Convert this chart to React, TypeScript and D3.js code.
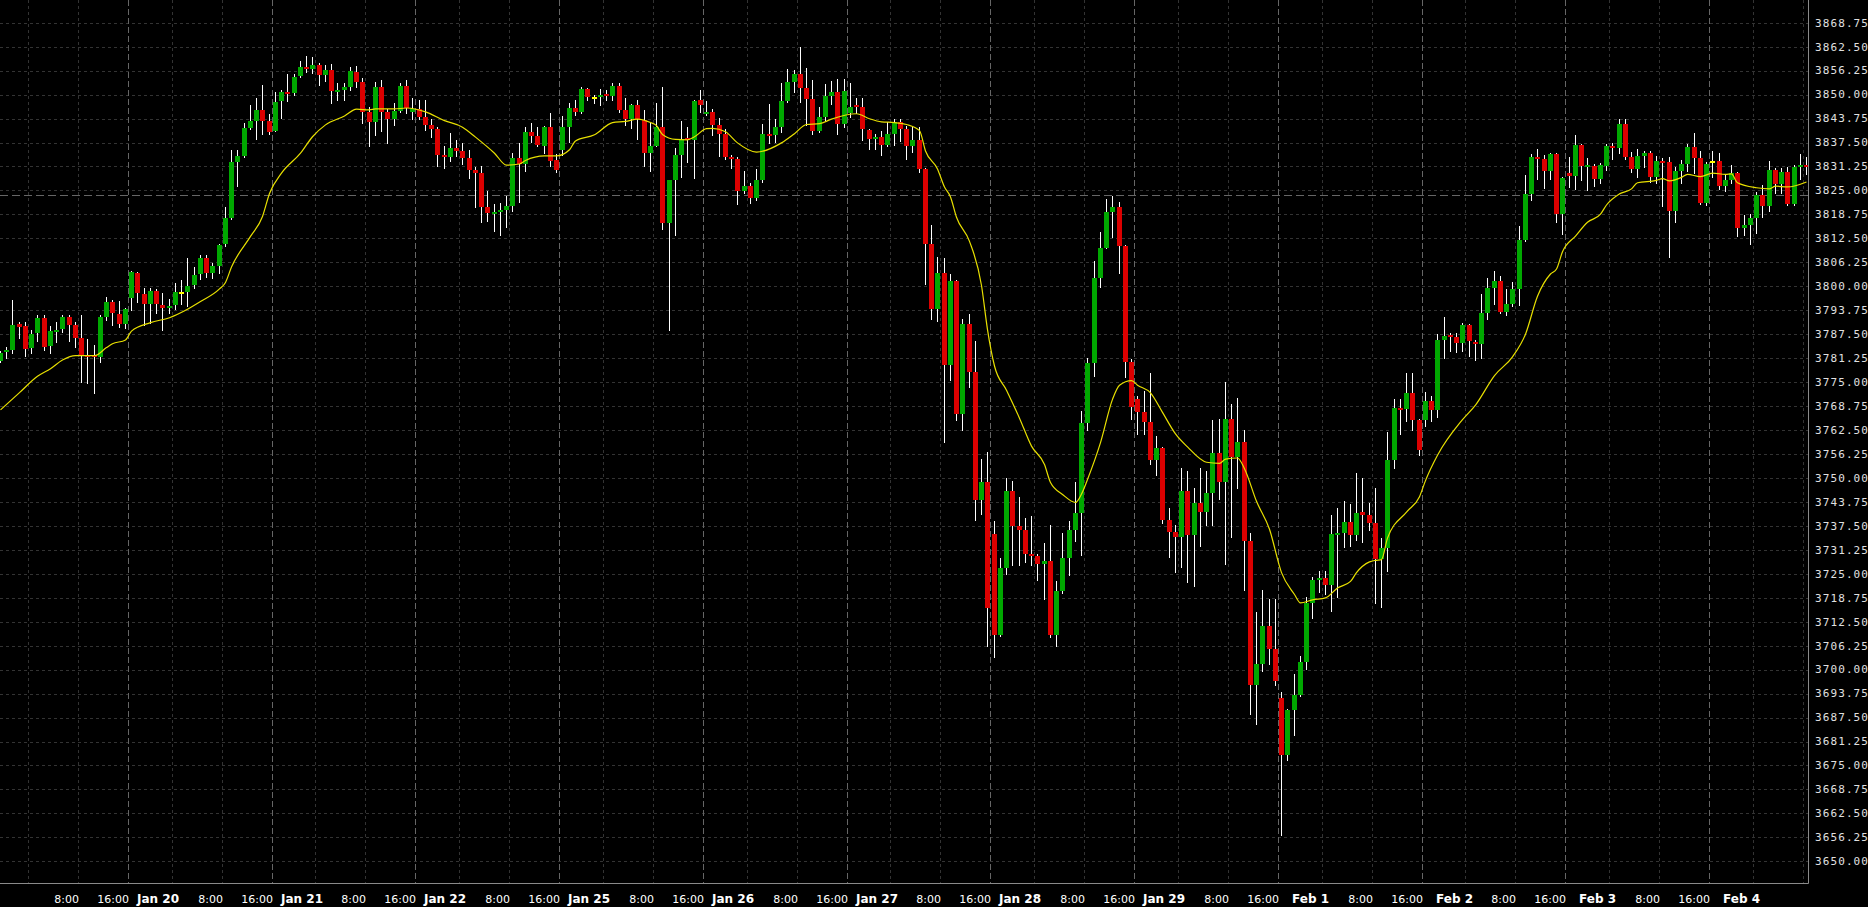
import React, { useEffect, useRef } from 'react';
import * as d3 from 'd3';

const WIDTH = 1868;
const HEIGHT = 907;
const PLOT_RIGHT = 1808;
const PLOT_BOTTOM = 883;

// trading sessions shown (hourly bars 01:00..23:00, first and last day partial)
const sessionDays = ['Jan 19', 'Jan 20', 'Jan 21', 'Jan 22', 'Jan 25', 'Jan 26', 'Jan 27', 'Jan 28', 'Jan 29', 'Feb 1', 'Feb 2', 'Feb 3', 'Feb 4'];
const firstBarHour = 3;
const lastBarHour = 16;

const opens = [
  3780.5, 3782.75, 3783.5, 3790.25, 3789.75, 3784, 3787.75, 3791.75, 3784.5, 3788, 3788.75, 3792, 3790, 3786.5, 3782, 3782, 3781.5, 3792, 3796, 3792.75,
  3790.25, 3797, 3803.5, 3798, 3795.5, 3798.75, 3795, 3794.25, 3795, 3798.5, 3798.5, 3800.25, 3803.25, 3807.5, 3803.5, 3805.25, 3811, 3817.75, 3832.5, 3834,
  3841.25, 3843, 3846, 3843, 3840.5, 3848.25, 3850.75, 3850.5, 3854.75, 3857.25, 3856.75, 3857.75, 3855, 3856.5, 3851, 3851.25, 3852, 3856, 3853.25, 3845.5,
  3842.75, 3852, 3845.5, 3843.75, 3845.75, 3852.25, 3845.5, 3846.25, 3844.25, 3842, 3841, 3834.25, 3833.75, 3836, 3835.25, 3833.5, 3830.25, 3829.5, 3820.75, 3818.75,
  3819.25, 3820, 3821, 3833.5, 3832, 3840.25, 3839.25, 3836.5, 3841.5, 3833, 3835.5, 3841.5, 3846.5, 3845.5, 3851.5, 3849.25, 3849.25, 3850.25, 3849.75, 3852.25,
  3846, 3843.5, 3847.25, 3843.25, 3834.75, 3836.5, 3841.5, 3816.5, 3827.75, 3834.25, 3838.75, 3838.25, 3848.5, 3845, 3845.5, 3842, 3839.75, 3833.75, 3833.25, 3824.75,
  3826.25, 3823, 3827.75, 3839.75, 3839.5, 3841.5, 3848.25, 3853.25, 3855.25, 3851.75, 3848.75, 3840.5, 3844.25, 3849.5, 3850.75, 3842.25, 3845.25, 3847.25, 3846.75, 3840.75,
  3838.5, 3839, 3836.75, 3839.75, 3842.75, 3841, 3836.5, 3838.25, 3830.5, 3811, 3794, 3803.5, 3779.5, 3801.5, 3766.75, 3790.25, 3777.75, 3744.25, 3749, 3735.25,
  3709, 3726.5, 3746.5, 3737.5, 3736.5, 3730.25, 3729.75, 3727.5, 3728.25, 3709, 3720.5, 3729, 3736.5, 3740.75, 3764.25, 3780, 3802.25, 3810, 3819.25, 3820.75,
  3810.5, 3780.25, 3770.5, 3767.25, 3764.5, 3754.75, 3757.75, 3739, 3736, 3734.5, 3746.5, 3735, 3743.5, 3741, 3746, 3756.5, 3749, 3765.25, 3755.5, 3759.25,
  3733.5, 3696, 3701.5, 3711.25, 3705.25, 3692.5, 3677.75, 3689.5, 3693.5, 3702, 3717.5, 3723.25, 3724, 3722, 3735.25, 3735.75, 3738.5, 3735, 3741, 3740.25,
  3738.25, 3728.75, 3731.75, 3754.75, 3768.25, 3768, 3772.25, 3765, 3765, 3770, 3767.75, 3786, 3787.25, 3786.75, 3785.25, 3790, 3785.5, 3785, 3793, 3799.5,
  3801.25, 3793.25, 3795.5, 3799.25, 3812, 3824, 3833.75, 3833.25, 3830, 3834.5, 3818.75, 3829.5, 3828.75, 3836.75, 3831.5, 3831.5, 3828, 3831.5, 3836.5, 3836,
  3842.25, 3833.75, 3830.5, 3834, 3834.75, 3828.5, 3832.75, 3832.5, 3819.75, 3830, 3832, 3836.25, 3833.5, 3821.75, 3832.75, 3832.75, 3826.25, 3827.75, 3829.5, 3815.25,
  3816, 3817.75, 3823.75, 3821, 3830.25, 3826.75, 3829.75, 3821.5, 3831, 3831.75,
];
const highs = [
  3783, 3784.25, 3796.5, 3790.75, 3790.75, 3788.5, 3792.5, 3792.5, 3789.75, 3790.75, 3792.5, 3792.5, 3790.75, 3792.5, 3786.25, 3784.75, 3792.5, 3797.25, 3796.5, 3796.25,
  3794.25, 3804, 3803.75, 3799.5, 3799.5, 3799.25, 3798.25, 3796.75, 3800.75, 3801.75, 3807.25, 3805, 3808.25, 3808.25, 3806, 3811, 3820.75, 3835.5, 3835.5, 3842.5,
  3847.25, 3849, 3852.5, 3845, 3850.75, 3851.25, 3855.25, 3855.25, 3858.75, 3860, 3859.75, 3858.25, 3857.75, 3858, 3853, 3853, 3857.25, 3857.5, 3854.25, 3846.75,
  3853.25, 3853.75, 3846.25, 3847.75, 3853, 3853.75, 3849, 3848.5, 3848.5, 3843.5, 3841.5, 3836.5, 3840, 3838.25, 3837.25, 3835.5, 3831, 3831.5, 3824.75, 3821.5,
  3821.75, 3823.5, 3834.75, 3837.25, 3841.5, 3842.5, 3841.5, 3841.75, 3845.25, 3834.5, 3844.5, 3847.75, 3848.5, 3852, 3851.75, 3850, 3851.5, 3851.25, 3853, 3853,
  3849, 3847.5, 3848.5, 3846, 3842.5, 3847.75, 3852, 3827.75, 3836, 3843, 3841.5, 3848.5, 3851.25, 3848.25, 3846.25, 3844, 3841, 3834.25, 3833.75, 3830,
  3827, 3830.5, 3842.25, 3847.5, 3843.5, 3853, 3856.75, 3856.5, 3862.5, 3857, 3853.75, 3846.75, 3852.75, 3853.5, 3854, 3854, 3853, 3849, 3849, 3841,
  3839.75, 3840.5, 3842.75, 3843.75, 3843.75, 3841.75, 3841.75, 3841.5, 3830.75, 3816, 3807.75, 3807.25, 3803.25, 3801.75, 3791.5, 3792.75, 3785.75, 3755, 3756.75, 3738.75,
  3729, 3750, 3749.25, 3745, 3739.5, 3740, 3730.25, 3733, 3737.75, 3723, 3735.75, 3738.75, 3749, 3767.5, 3781.25, 3806.5, 3814.25, 3822.75, 3823.5, 3822,
  3810.75, 3781, 3771.5, 3772.75, 3777.5, 3761, 3758, 3742.25, 3737.75, 3752.5, 3751.75, 3747.25, 3752.5, 3751.75, 3765, 3765.5, 3775, 3769.25, 3770.75, 3762.5,
  3735.75, 3715, 3720.75, 3718.5, 3718.5, 3694.25, 3689.75, 3698.75, 3703.5, 3719, 3724.25, 3725.75, 3725.75, 3740.25, 3742.25, 3744, 3743.25, 3751.25, 3750, 3743.5,
  3747.5, 3734.25, 3762, 3770.5, 3770.5, 3777.25, 3777.25, 3765.5, 3772.5, 3771.5, 3787.5, 3792, 3787.75, 3787.75, 3790.5, 3790.25, 3786, 3798, 3802.25, 3804,
  3802.75, 3799.25, 3801, 3815.75, 3829, 3834.5, 3835.75, 3834.25, 3834.75, 3834.75, 3828.5, 3833.75, 3839.5, 3837, 3833.5, 3832, 3832.25, 3837, 3837.25, 3843.75,
  3843.75, 3835, 3835.75, 3835.25, 3835.25, 3834, 3833.5, 3833.75, 3831, 3833, 3837, 3840, 3835.25, 3832.5, 3835.25, 3834.75, 3829.25, 3831.75, 3829.75, 3818.5,
  3818.75, 3824.5, 3826.5, 3832.75, 3830.75, 3830.75, 3831, 3831.75, 3834.5, 3833.75,
];
const lows = [
  3780.25, 3781.25, 3782.5, 3786.5, 3781.75, 3782.5, 3785.75, 3783.25, 3782.5, 3785.5, 3788, 3785.75, 3784.25, 3775, 3774.75, 3772.25, 3780.25, 3791.25, 3790, 3789.5,
  3789, 3793.75, 3796, 3790, 3790.5, 3793, 3788.5, 3793, 3794, 3795.5, 3794.75, 3799.5, 3802, 3802.5, 3802.25, 3803.5, 3810.5, 3817.5, 3826.25, 3833.75,
  3841, 3838.5, 3839.75, 3839.75, 3840.5, 3844, 3848.25, 3850, 3854.5, 3856, 3855.5, 3852.5, 3853.5, 3847.75, 3848.5, 3848.5, 3851.25, 3852, 3842.5, 3836.5,
  3839.5, 3840.5, 3837.25, 3842, 3845.5, 3845.25, 3843.5, 3843.5, 3840.75, 3839, 3831.5, 3830.75, 3832.75, 3834, 3832, 3828.25, 3820.75, 3816.75, 3817, 3814.5,
  3813.25, 3815.5, 3819.75, 3822, 3830, 3837.75, 3836.5, 3834.75, 3831.5, 3829.75, 3834.25, 3837.75, 3844.75, 3845.25, 3848.5, 3847.75, 3847.25, 3848.5, 3848.5, 3845.5,
  3842, 3841.25, 3838.5, 3831.5, 3830, 3836.5, 3815, 3788.5, 3813.5, 3828.5, 3832.5, 3828.25, 3845.5, 3844.75, 3839.5, 3834, 3833.25, 3830.75, 3821.5, 3824.25,
  3821.75, 3822.5, 3827.25, 3837.5, 3837.75, 3840.25, 3848, 3850.75, 3848, 3842, 3839.75, 3840.25, 3843.25, 3847.5, 3839.75, 3841.5, 3844.25, 3845.25, 3838.25, 3835.75,
  3835.75, 3834.25, 3836.5, 3836.75, 3838, 3833.25, 3835, 3829.75, 3800.5, 3791.5, 3791, 3759.5, 3775.5, 3765, 3762.5, 3773.75, 3739, 3740.5, 3706.25, 3703.25,
  3708.75, 3725, 3727.25, 3727.25, 3728, 3727.25, 3723.25, 3718.5, 3708.5, 3706.25, 3720, 3724.75, 3733.5, 3730, 3762.5, 3776.5, 3799.75, 3810, 3812.75, 3803.5,
  3776.25, 3765.5, 3761.5, 3761.5, 3753.75, 3750.75, 3738.25, 3729.25, 3725.5, 3726.75, 3722.75, 3721.75, 3732.25, 3737.75, 3737.75, 3744.5, 3727.5, 3734.5, 3747.25, 3720.75,
  3688.5, 3685.75, 3699.75, 3701.5, 3696, 3656.75, 3676.5, 3683, 3693, 3700.25, 3713.5, 3720.25, 3719.75, 3715.25, 3719, 3732, 3732.25, 3733.75, 3733.25, 3736.5,
  3717.5, 3716.25, 3725.75, 3752.5, 3761.5, 3764.75, 3762.5, 3756, 3763.5, 3764.75, 3766, 3781.25, 3783, 3782.75, 3783, 3781.75, 3780.75, 3781.25, 3791.5, 3795.5,
  3793, 3792.5, 3794.75, 3795, 3811.75, 3822.5, 3828, 3825.75, 3828, 3816.75, 3813.75, 3826, 3825.5, 3827.75, 3825, 3826.25, 3827, 3830.25, 3833.25, 3834.75,
  3833.25, 3829.75, 3828.5, 3831, 3827.25, 3827, 3821, 3807.75, 3816.75, 3827, 3830, 3829.5, 3821.5, 3821.25, 3828.5, 3825.5, 3824.75, 3827, 3813, 3813.25,
  3811, 3814, 3818, 3819.75, 3824.25, 3824.25, 3821.25, 3821.25, 3828, 3829.25,
];
const closes = [
  3782.5, 3783.5, 3790, 3789.5, 3783.75, 3787.5, 3791.75, 3784.25, 3788.25, 3788.5, 3792, 3790, 3786.5, 3782, 3781.75, 3781.5, 3792, 3796, 3793, 3790.25,
  3794, 3803.75, 3798.25, 3795.5, 3798.75, 3795.5, 3794.25, 3794.75, 3798.5, 3798.5, 3800, 3803, 3807.5, 3803.5, 3805.25, 3810.75, 3817.75, 3832.5, 3834, 3841.25,
  3843, 3846, 3843, 3840.25, 3848, 3850.75, 3850.25, 3854.5, 3857.25, 3856.75, 3857.75, 3855, 3856.5, 3851, 3851.25, 3852, 3856.25, 3853.25, 3845.5, 3842.75,
  3852, 3845.5, 3843.75, 3845.75, 3852.25, 3846.5, 3846.25, 3844.25, 3842, 3841, 3834.25, 3833.75, 3836, 3835.25, 3833.5, 3830.25, 3829.5, 3820.75, 3819, 3819.25,
  3820, 3821, 3833.5, 3832, 3840.25, 3839.25, 3836.75, 3841.5, 3832.75, 3830.25, 3841.5, 3846.5, 3845.5, 3851.5, 3849.25, 3849.25, 3850, 3849.75, 3852.25, 3846,
  3843.5, 3847.25, 3843.5, 3834.75, 3836.5, 3841.5, 3816.5, 3827.75, 3834.25, 3838.5, 3838.25, 3848.25, 3847.25, 3845.5, 3842, 3839.75, 3833.75, 3833.25, 3824.75, 3826.25,
  3823, 3827.75, 3839.75, 3839.5, 3841.5, 3848.25, 3853.25, 3855.25, 3851.75, 3848.75, 3840.5, 3844.25, 3849.5, 3850.75, 3842.25, 3851, 3846.75, 3846.75, 3841, 3838.5,
  3839, 3836.75, 3839.75, 3842.75, 3841, 3836.5, 3838.25, 3830.5, 3811, 3794, 3803.5, 3779.5, 3801.5, 3766.75, 3790.25, 3777.75, 3744.25, 3749, 3716, 3709,
  3726.5, 3746.5, 3737.5, 3736.5, 3730.25, 3729.75, 3727.5, 3728.25, 3709, 3720.5, 3729, 3736.5, 3740.75, 3764.25, 3780, 3802.25, 3810, 3819.25, 3820.75, 3810.5,
  3780.25, 3768.5, 3767.25, 3764.5, 3754.75, 3757.75, 3739, 3736, 3734.5, 3746.5, 3735, 3743.5, 3741, 3746, 3756.5, 3749, 3765.25, 3755.5, 3759.25, 3733.5,
  3696, 3701.5, 3711.25, 3705.25, 3697, 3677.75, 3689.5, 3693.5, 3702, 3717.5, 3723.25, 3724, 3722, 3735.25, 3735.75, 3738.5, 3735, 3740.75, 3740.25, 3738.25,
  3728.75, 3731.75, 3754.75, 3768.25, 3768, 3772.25, 3765, 3757.25, 3770, 3767.75, 3786, 3787, 3786.75, 3785.25, 3790, 3785.75, 3785, 3793, 3799.5, 3801.25,
  3793.25, 3795.5, 3799.25, 3812, 3824, 3833.75, 3833.25, 3830, 3834.5, 3818.75, 3828.25, 3828.75, 3836.75, 3831.5, 3831.75, 3828, 3831.75, 3836.5, 3836, 3842.25,
  3833.75, 3830.5, 3834, 3834.75, 3828.5, 3832.75, 3832.5, 3819.75, 3830, 3832, 3836.25, 3833.5, 3821.75, 3832, 3832.75, 3826.25, 3827.75, 3829.5, 3815.25, 3816,
  3817.75, 3823.75, 3821, 3830.25, 3826.75, 3829.75, 3821.5, 3831, 3831.75, 3831.5,
];

// yellow moving average at these bars
const maBars = [
  0, 3, 6, 8, 10, 12, 15, 17, 18, 20, 21, 24, 27, 30, 32, 35, 36, 37, 40, 42, 43, 45, 48, 50, 52, 55, 57, 59, 60, 63, 65, 68, 71, 74, 76, 79, 81, 83, 84, 87,
  89, 91, 92, 95, 98, 100, 102, 104, 105, 106, 108, 110, 111, 113, 114, 116, 118, 121, 125, 127, 129, 131, 133, 137, 139, 141, 143, 145, 147, 148, 150, 151, 152, 153, 155, 157,
  158, 159, 161, 163, 165, 167, 168, 170, 172, 173, 174, 176, 178, 179, 181, 182, 184, 186, 188, 190, 193, 195, 196, 198, 199, 201, 203, 205, 207, 208, 210, 212, 214, 216,
  217, 219, 220, 221, 222, 225, 227, 228, 230, 234, 236, 239, 242, 244, 246, 248, 249, 250, 252, 254, 256, 257, 259, 261, 262, 265, 266, 267, 269, 270, 272, 274, 276, 277,
  278, 281, 283, 284, 286, 289,
];
const maValues = [
  3767.75, 3772.25, 3776.5, 3778.5, 3780.75, 3781.9, 3781.9, 3784, 3785, 3786, 3788.3, 3790.5, 3791.8, 3794, 3796, 3799.3, 3801, 3805, 3813, 3818.2, 3824.2, 3829.5, 3834.7, 3839, 3842.1, 3844.4, 3846.2, 3846, 3846.25, 3846.25,
  3846.5, 3845.5, 3843.2, 3841.5, 3838.9, 3834.7, 3831.6, 3831.9, 3832.8, 3834, 3834, 3835.6, 3837.9, 3839.5, 3842.7, 3843, 3843.6, 3842.7, 3841.9, 3839.6, 3838.3, 3838.2, 3839, 3841.1, 3841.2, 3840.3, 3837.4, 3835, 3837.4, 3839.8,
  3842.2, 3842.4, 3843.6, 3845, 3843.7, 3842.9, 3842.7, 3842.2, 3840.6, 3835.3, 3830.6, 3825.9, 3823.3, 3818, 3811.7, 3800.2, 3788.7, 3779.2, 3772.9, 3765.6, 3758.3, 3753.5, 3748.8, 3745.7, 3743.6, 3745.8, 3749.6, 3759.2, 3770.5, 3774.2,
  3775.4, 3774.2, 3772.2, 3767.1, 3761.5, 3758.1, 3754.1, 3753.8, 3754.9, 3755.2, 3752.4, 3743.9, 3736.6, 3725.3, 3719.6, 3717.4, 3718.2, 3718.7, 3721.3, 3723, 3725.3, 3728.1, 3728.5, 3728.7, 3734.3, 3741.1, 3745.1, 3749.3, 3755.9, 3765.2,
  3769, 3776.7, 3781.6, 3787.5, 3797.4, 3803.2, 3804.5, 3809, 3813.1, 3816.7, 3818.8, 3821.2, 3824.1, 3825.4, 3827, 3827.6, 3828.1, 3827.5, 3828.4, 3829.2, 3828.6, 3829.5, 3829.2, 3829.3, 3827, 3825.7, 3825.4, 3826.1, 3825.9, 3827.2,
];

const priceTicks = [
  3650.0, 3656.25, 3662.5, 3668.75, 3675.0, 3681.25, 3687.5, 3693.75, 3700.0, 3706.25, 3712.5, 3718.75, 3725.0, 3731.25, 3737.5, 3743.75, 3750.0, 3756.25,
  3762.5, 3768.75, 3775.0, 3781.25, 3787.5, 3793.75, 3800.0, 3806.25, 3812.5, 3818.75, 3825.0, 3831.25, 3837.5, 3843.75, 3850.0, 3856.25, 3862.5, 3868.75,
];
const timeTickHours = [8, 16];
const levelLine = 3823.9;

const UP = '#00a800';
const DOWN = '#dc0000';
const DOJI = '#ffff00';

const App: React.FC = () => {
  const svgRef = useRef<SVGSVGElement>(null);

  useEffect(() => {
    if (!svgRef.current) return;
    const svg = d3.select(svgRef.current);
    svg.selectAll('*').remove();

    const bars: { i: number; day: string; hour: number; first: boolean }[] = [];
    sessionDays.forEach((day, di) => {
      const from = di === 0 ? firstBarHour : 1;
      const to = di === sessionDays.length - 1 ? lastBarHour : 23;
      for (let h = from; h <= to; h++) bars.push({ i: bars.length, day, hour: h, first: h === 1 });
    });

    const x = d3.scaleBand<number>()
      .domain(bars.map(b => b.i))
      .range([-3.375, -3.375 + bars.length * 6.25])
      .padding(0);
    const cx = (i: number) => Math.round((x(i) ?? 0) + x.bandwidth() / 2);
    const y = d3.scaleLinear().domain([3650, 3868.75]).range([861.3, 22.7]);

    svg.append('rect').attr('width', WIDTH).attr('height', HEIGHT).attr('fill', '#000');

    const grid = svg.append('g');
    grid.selectAll('line.h')
      .data(priceTicks)
      .enter().append('line')
      .attr('x1', 0).attr('x2', PLOT_RIGHT)
      .attr('y1', d => Math.round(y(d)) + 0.5).attr('y2', d => Math.round(y(d)) + 0.5)
      .attr('stroke', '#333333').attr('stroke-dasharray', '3,3');

    const vTicks = bars.filter(b => b.first || timeTickHours.includes(b.hour));
    grid.selectAll('line.v')
      .data(vTicks)
      .enter().append('line')
      .attr('x1', d => Math.round(x(d.i) ?? 0) + 0.5).attr('x2', d => Math.round(x(d.i) ?? 0) + 0.5)
      .attr('y1', 0).attr('y2', PLOT_BOTTOM)
      .attr('stroke', d => d.first ? '#666666' : '#333333')
      .attr('stroke-dasharray', d => d.first ? '6,3' : '3,3');

    grid.append('line')
      .attr('x1', 0).attr('x2', PLOT_RIGHT)
      .attr('y1', Math.round(y(levelLine)) + 0.5).attr('y2', Math.round(y(levelLine)) + 0.5)
      .attr('stroke', '#666666').attr('stroke-dasharray', '8,4');

    const candles = svg.append('g');
    bars.forEach(b => {
      const i = b.i;
      const o = opens[i], h = highs[i], l = lows[i], c = closes[i];
      const xc = cx(i);
      candles.append('line')
        .attr('x1', xc + 0.5).attr('x2', xc + 0.5)
        .attr('y1', Math.round(y(h))).attr('y2', Math.round(y(l)) + 1)
        .attr('stroke', '#ffffff');
      const top = Math.round(y(Math.max(o, c)));
      const bot = Math.round(y(Math.min(o, c)));
      candles.append('rect')
        .attr('x', xc - 2).attr('width', 5)
        .attr('y', top).attr('height', Math.max(2, bot - top))
        .attr('fill', o === c ? DOJI : c > o ? UP : DOWN);
    });

    const ma = d3.line<number>()
      .x((_, k) => cx(maBars[k]) + 0.5)
      .y(d => y(d))
      .curve(d3.curveMonotoneX);
    svg.append('path')
      .attr('d', ma(maValues) ?? '')
      .attr('fill', 'none')
      .attr('stroke', '#e8e000')
      .attr('stroke-width', 1.2);

    // frame
    svg.append('rect').attr('x', PLOT_RIGHT + 1).attr('y', 0).attr('width', WIDTH - PLOT_RIGHT).attr('height', HEIGHT).attr('fill', '#000');
    svg.append('rect').attr('x', 0).attr('y', PLOT_BOTTOM + 1).attr('width', WIDTH).attr('height', HEIGHT - PLOT_BOTTOM).attr('fill', '#000');
    svg.append('path')
      .attr('d', `M0,${PLOT_BOTTOM + 0.5}H${PLOT_RIGHT + 0.5}V0`)
      .attr('fill', 'none').attr('stroke', '#8a8a8a');

    svg.append('g').selectAll('text')
      .data(priceTicks)
      .enter().append('text')
      .attr('x', 1815)
      .attr('y', d => y(d))
      .attr('dy', '0.35em')
      .attr('fill', '#e0e0e0')
      .attr('font-family', 'DejaVu Sans Mono, monospace')
      .attr('font-size', 11)
      .attr('letter-spacing', 1.1)
      .text(d => d.toFixed(2));

    const labels = vTicks.filter(b => (x(b.i) ?? 0) + 51 < 1790);
    svg.append('g').selectAll('text')
      .data(labels)
      .enter().append('text')
      .attr('x', d => Math.round(x(d.i) ?? 0) + 51)
      .attr('y', 903)
      .attr('text-anchor', 'end')
      .attr('fill', '#ffffff')
      .attr('font-family', 'DejaVu Sans, sans-serif')
      .attr('font-size', d => d.first ? 12 : 11)
      .attr('font-weight', d => d.first ? 'bold' : 'normal')
      .text(d => d.first ? d.day : `${d.hour}:00`);
  }, []);

  return (
    <div style={{ position: 'fixed', left: 0, top: 0, width: WIDTH, height: HEIGHT, background: '#000' }}>
      <svg ref={svgRef} width={WIDTH} height={HEIGHT} style={{ display: 'block' }} />
    </div>
  );
};

export default App;
